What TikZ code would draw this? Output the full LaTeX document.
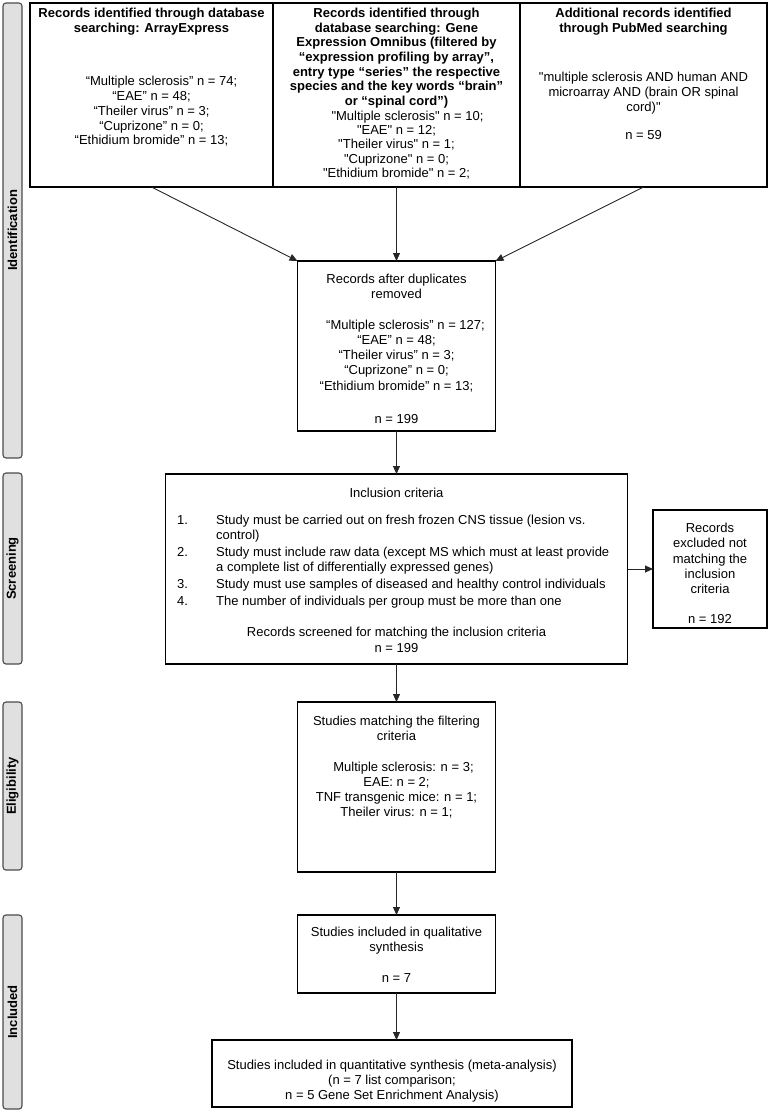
\documentclass[tikz,border=0pt]{standalone}
\usepackage{fontspec}
\setmainfont{Liberation Sans}[Ligatures=TeXOff]
\usetikzlibrary{arrows.meta}
\begin{document}
\begin{tikzpicture}[x=1pt,y=-1pt,
  box/.style={draw=black,line width=1.1pt,inner sep=0pt,outer sep=0pt},
  side/.style={draw=black!70,fill=black!12,line width=1.1pt,rounded corners=3pt,inner sep=0pt,minimum height=19pt,rotate=90,font=\fontsize{13}{15}\selectfont\bfseries},
  txt/.style={inner sep=0pt,align=center,anchor=north,font=\fontsize{13}{15.2}\selectfont},
  btxt/.style={txt,font=\fontsize{13}{15}\selectfont\bfseries},
  arr/.style={-{Triangle[length=8pt,width=7pt]},line width=0.9pt,draw=black!85}]
\useasboundingbox (0,0) rectangle (769,1114);

% side labels
\node[side,minimum width=455pt] (sid) at (12.5,230.5) {Identification};
\node[side,minimum width=191pt] (ssc) at (12.5,568.5) {Screening};
\node[side,minimum width=168pt] (sel) at (12.5,786) {Eligibility};
\node[side,minimum width=194pt] (sin) at (12.5,1012) {Included};

% boxes
\node[box,minimum width=243pt,minimum height=184pt] (b1) at (151.5,95) {};
\node[box,minimum width=247pt,minimum height=184pt] (b2) at (396.5,95) {};
\node[box,minimum width=247pt,minimum height=184pt] (b3) at (643.5,95) {};
\node[box,minimum width=198pt,minimum height=170pt] (dup) at (396.5,346) {};
\node[box,minimum width=462pt,minimum height=190pt] (inc) at (396.5,569) {};
\node[box,minimum width=114pt,minimum height=118pt] (exc) at (710,569) {};
\node[box,minimum width=198pt,minimum height=170pt] (eli) at (396.5,787) {};
\node[box,minimum width=198pt,minimum height=78pt] (qua) at (396.5,954) {};
\node[box,minimum width=360pt,minimum height=67pt] (qnt) at (392,1073.5) {};

% texts
\node[btxt] (t1a) at (151.5,8) {Records identified through database\\searching: ArrayExpress};
\node[txt,font=\fontsize{13}{14.8}\selectfont] (t1b) at (151.5,76) {\hspace*{20pt}“Multiple sclerosis” n = 74;\\“EAE” n = 48;\\“Theiler virus” n = 3;\\“Cuprizone” n = 0;\\“Ethidium bromide” n = 13;};

\node[btxt,font=\fontsize{13}{14.6}\selectfont\bfseries] (t2a) at (396.5,8) {Records identified through\\database searching: Gene\\Expression Omnibus (filtered by\\“expression profiling by array”,\\entry type “series” the respective\\species and the key words “brain”\\or “spinal cord”)};
\node[txt,font=\fontsize{13}{14.4}\selectfont] (t2b) at (396.5,110.5) {\hspace*{22pt}"Multiple sclerosis" n = 10;\\"EAE" n = 12;\\"Theiler virus" n = 1;\\"Cuprizone" n = 0;\\"Ethidium bromide" n = 2;};

\node[btxt] (t3a) at (643.5,8) {Additional records identified\\through PubMed searching};
\node[txt,font=\fontsize{13}{15}\selectfont] (t3b) at (643.5,72) {"multiple sclerosis AND human AND\\microarray AND (brain OR spinal\\cord)"\\[13pt]n = 59};

\node[txt] (tdup) at (396.5,274) {Records after duplicates\\removed\\[15.2pt]\hspace*{18pt}“Multiple sclerosis” n = 127;\\“EAE” n = 48;\\“Theiler virus” n = 3;\\“Cuprizone” n = 0;\\“Ethidium bromide” n = 13;\\[18.5pt]n = 199};

\node[txt] (tinc1) at (396.5,488) {Inclusion criteria};
\node[txt,align=left,anchor=north west] (tinc2) at (177,515) {\makebox[39pt][l]{1.}Study must be carried out on fresh frozen CNS tissue (lesion vs.\\\hspace*{39pt}control)\\[1.5pt]\makebox[39pt][l]{2.}Study must include raw data (except MS which must at least provide\\\hspace*{39pt}a complete list of differentially expressed genes)\\[1.5pt]\makebox[39pt][l]{3.}Study must use samples of diseased and healthy control individuals\\[1.5pt]\makebox[39pt][l]{4.}The number of individuals per group must be more than one};
\node[txt,font=\fontsize{13}{15.5}\selectfont] (tinc3) at (396.5,627) {Records screened for matching the inclusion criteria\\n = 199};

\node[txt] (texc) at (710,523) {Records\\excluded not\\matching the\\inclusion\\criteria\\[15.2pt]n = 192};

\node[txt] (teli) at (396.5,716) {Studies matching the filtering\\criteria\\[15.2pt]\hspace*{14pt}Multiple sclerosis: n = 3;\\EAE: n = 2;\\TNF transgenic mice: n = 1;\\Theiler virus: n = 1;};

\node[txt] (tqua) at (396.5,927) {Studies included in qualitative\\synthesis\\[15.2pt]n = 7};

\node[txt,font=\fontsize{13}{15}\selectfont] (tqnt) at (392,1060) {Studies included in quantitative synthesis (meta-analysis)\\(n = 7 list comparison;\\n = 5 Gene Set Enrichment Analysis)};

% arrows
\draw[arr] (b1.south) -- (dup.north west);
\draw[arr] (b2.south) -- (dup.north);
\draw[arr] (b3.south) -- (dup.north east);
\draw[arr] (dup.south) -- (inc.north);
\draw[arr] (inc.east) -- (exc.west);
\draw[arr] (inc.south) -- (eli.north);
\draw[arr] (eli.south) -- (qua.north);
\draw[arr] (qua.south) -- (qua.south |- qnt.north);
\end{tikzpicture}
\end{document}
